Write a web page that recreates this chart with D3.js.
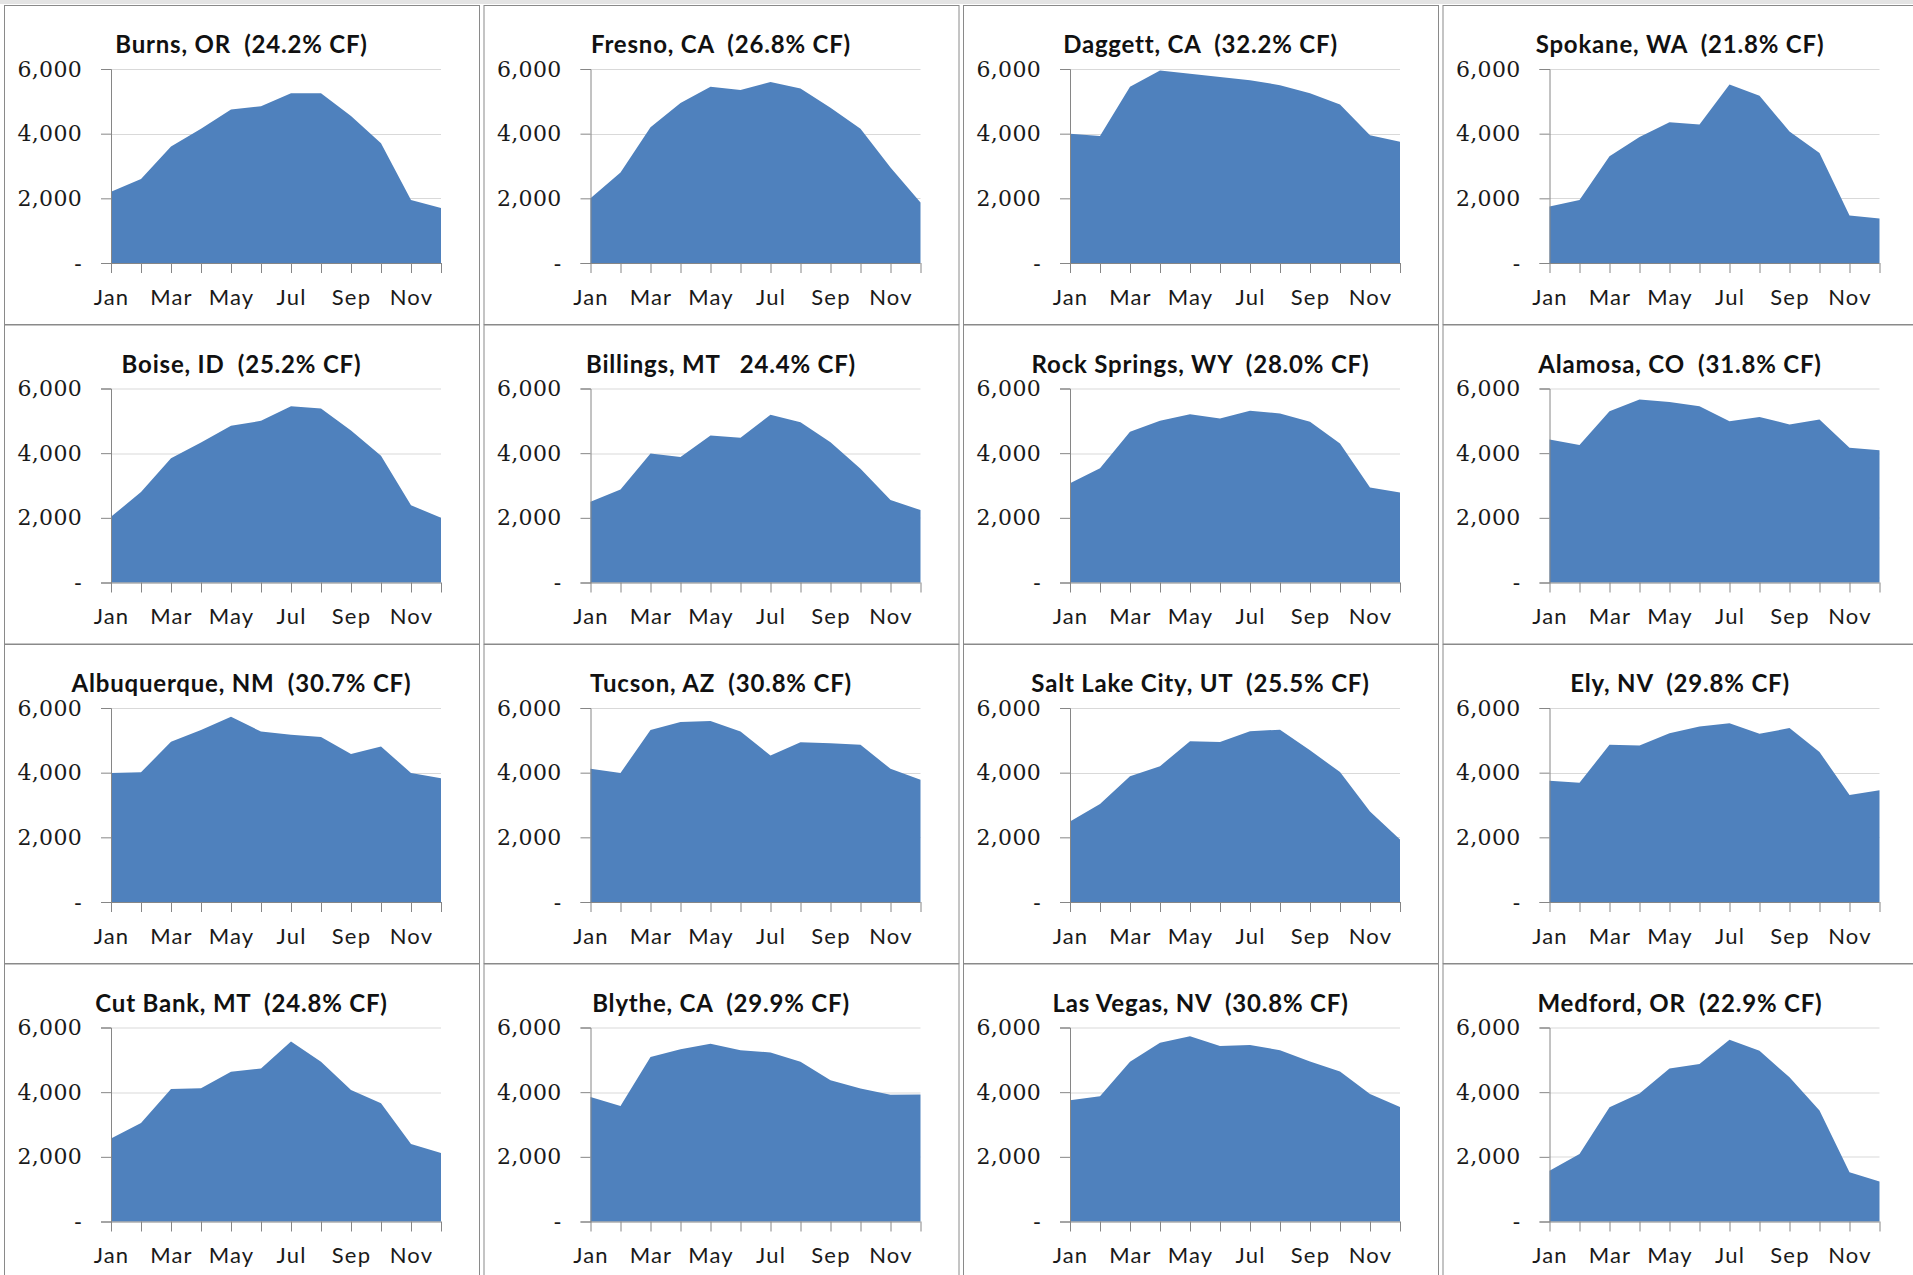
<!DOCTYPE html>
<html>
<head>
<meta charset="utf-8">
<script src="https://cdn.jsdelivr.net/npm/d3@7"></script>
<style>
  body { margin: 0; background: #ffffff; }
  svg { display: block; }
</style>
</head>
<body>
<svg id="chart" width="1913" height="1275"></svg>
<script>
// ---------- data ----------
const months = ["Jan","Feb","Mar","Apr","May","Jun","Jul","Aug","Sep","Oct","Nov","Dec"];
const monthLabels = ["Jan","Mar","May","Jul","Sep","Nov"];
const yTicks = [0, 2000, 4000, 6000];

const titles = [
  "Burns, OR  (24.2% CF)", "Fresno, CA  (26.8% CF)", "Daggett, CA  (32.2% CF)", "Spokane, WA  (21.8% CF)",
  "Boise, ID  (25.2% CF)", "Billings, MT   24.4% CF)", "Rock Springs, WY  (28.0% CF)", "Alamosa, CO  (31.8% CF)",
  "Albuquerque, NM  (30.7% CF)", "Tucson, AZ  (30.8% CF)", "Salt Lake City, UT  (25.5% CF)", "Ely, NV  (29.8% CF)",
  "Cut Bank, MT  (24.8% CF)", "Blythe, CA  (29.9% CF)", "Las Vegas, NV  (30.8% CF)", "Medford, OR  (22.9% CF)"
];

const burns       = [2200, 2600, 3600, 4150, 4750, 4850, 5250, 5250, 4550, 3700, 1950, 1700];
const fresno      = [2000, 2800, 4200, 4950, 5450, 5350, 5600, 5400, 4800, 4150, 2950, 1870];
const daggett     = [4000, 3930, 5450, 5950, 5850, 5750, 5650, 5500, 5250, 4900, 3950, 3750];
const spokane     = [1750, 1950, 3300, 3900, 4350, 4280, 5520, 5170, 4070, 3400, 1470, 1380];
const boise       = [2030, 2800, 3840, 4330, 4850, 5000, 5450, 5380, 4700, 3920, 2390, 2000];
const billings    = [2500, 2880, 3990, 3880, 4550, 4480, 5190, 4960, 4340, 3520, 2550, 2240];
const rockSprings = [3070, 3530, 4660, 5000, 5200, 5070, 5310, 5230, 4970, 4300, 2940, 2780];
const alamosa     = [4420, 4250, 5300, 5660, 5580, 5450, 4990, 5120, 4890, 5040, 4170, 4090];
const albuquerque = [3990, 4010, 4960, 5320, 5730, 5270, 5170, 5100, 4580, 4810, 3990, 3830];
const tucson      = [4120, 3990, 5320, 5570, 5600, 5270, 4530, 4940, 4910, 4860, 4120, 3780];
const saltLake    = [2490, 3030, 3890, 4200, 4970, 4950, 5280, 5330, 4690, 4020, 2800, 1930];
const ely         = [3750, 3690, 4860, 4840, 5220, 5430, 5530, 5200, 5380, 4640, 3310, 3460];
const cutBank     = [2570, 3050, 4100, 4120, 4630, 4730, 5570, 4940, 4070, 3660, 2400, 2120];
const blythe      = [3850, 3570, 5090, 5330, 5500, 5300, 5230, 4940, 4370, 4110, 3920, 3930];
const lasVegas    = [3750, 3870, 4940, 5530, 5730, 5430, 5460, 5300, 4950, 4640, 3940, 3540];
const medford     = [1570, 2090, 3530, 3960, 4730, 4870, 5620, 5280, 4460, 3430, 1520, 1240];

const series = [burns, fresno, daggett, spokane, boise, billings, rockSprings, alamosa,
                albuquerque, tucson, saltLake, ely, cutBank, blythe, lasVegas, medford];

// ---------- drawing ----------
const svg = d3.select("#chart");
svg.append("rect").attr("x", 0).attr("y", 0).attr("width", 1913).attr("height", 4).attr("fill", "#e4e4e4");

const colPitch = 479.5, rowPitch = 319.5;
const panelW = 475, panelH = 319;
const plotLeft = 107, plotTop = 64, plotW = 330, plotH = 194;
const fill = "#4F81BD";
const axisColor = "#868686";
const gridColor = "#d9d9d9";

const x = d3.scalePoint().domain(months).range([0, plotW]);
const y = d3.scaleLinear().domain([0, 6000]).range([plotH, 0]);
const area = d3.area().x((d, i) => x(months[i])).y0(y(0)).y1(d => y(d));

series.forEach((vals, i) => {
  const c = i % 4, r = Math.floor(i / 4);
  const px = 4 + c * colPitch, py = 5 + r * rowPitch;
  const g = svg.append("g").attr("transform", `translate(${px},${py})`);

  g.append("rect").attr("x", 0.5).attr("y", 0.5).attr("width", panelW).attr("height", panelH)
    .attr("fill", "#ffffff").attr("stroke", "#8a8a8a").attr("stroke-width", 1);

  g.append("text").attr("x", panelW / 2).attr("y", 48).attr("text-anchor", "middle")
    .style("white-space", "pre").attr("font-family", "Lato, 'Open Sans', sans-serif")
    .attr("font-weight", "bold").attr("font-size", 24).attr("letter-spacing", 0.8).attr("fill", "#111")
    .text(titles[i]);

  const p = g.append("g").attr("transform", `translate(${plotLeft},${plotTop})`);

  p.selectAll("line.grid").data(yTicks.filter(t => t > 0)).join("line")
    .attr("class", "grid").attr("x1", 0).attr("x2", plotW)
    .attr("y1", d => Math.round(y(d)) + 0.5).attr("y2", d => Math.round(y(d)) + 0.5)
    .attr("stroke", gridColor).attr("stroke-width", 1);

  p.append("path").datum(vals).attr("d", area).attr("fill", fill);

  const yAxis = p.append("g").call(
    d3.axisLeft(y).tickValues(yTicks).tickSize(10).tickPadding(19)
      .tickFormat(d => d === 0 ? "-" : d3.format(",")(d)));
  yAxis.selectAll("path, line").attr("stroke", axisColor);
  yAxis.selectAll("text").attr("font-family", "'DejaVu Serif', serif").attr("font-size", 22)
    .attr("letter-spacing", 0.3).attr("fill", "#1a1a1a");

  const xAxis = p.append("g").attr("transform", `translate(0,${plotH})`).call(
    d3.axisBottom(x).tickSize(10).tickSizeOuter(0).tickPadding(16)
      .tickFormat(d => monthLabels.includes(d) ? d : ""));
  xAxis.select("path.domain").attr("d", `M0,0.5H${plotW}`);
  xAxis.selectAll("path, line").attr("stroke", axisColor);
  xAxis.selectAll("text").attr("font-family", "Lato, 'Open Sans', sans-serif").attr("font-size", 22)
    .attr("letter-spacing", 1.2).attr("fill", "#1a1a1a");
});
</script>
</body>
</html>
